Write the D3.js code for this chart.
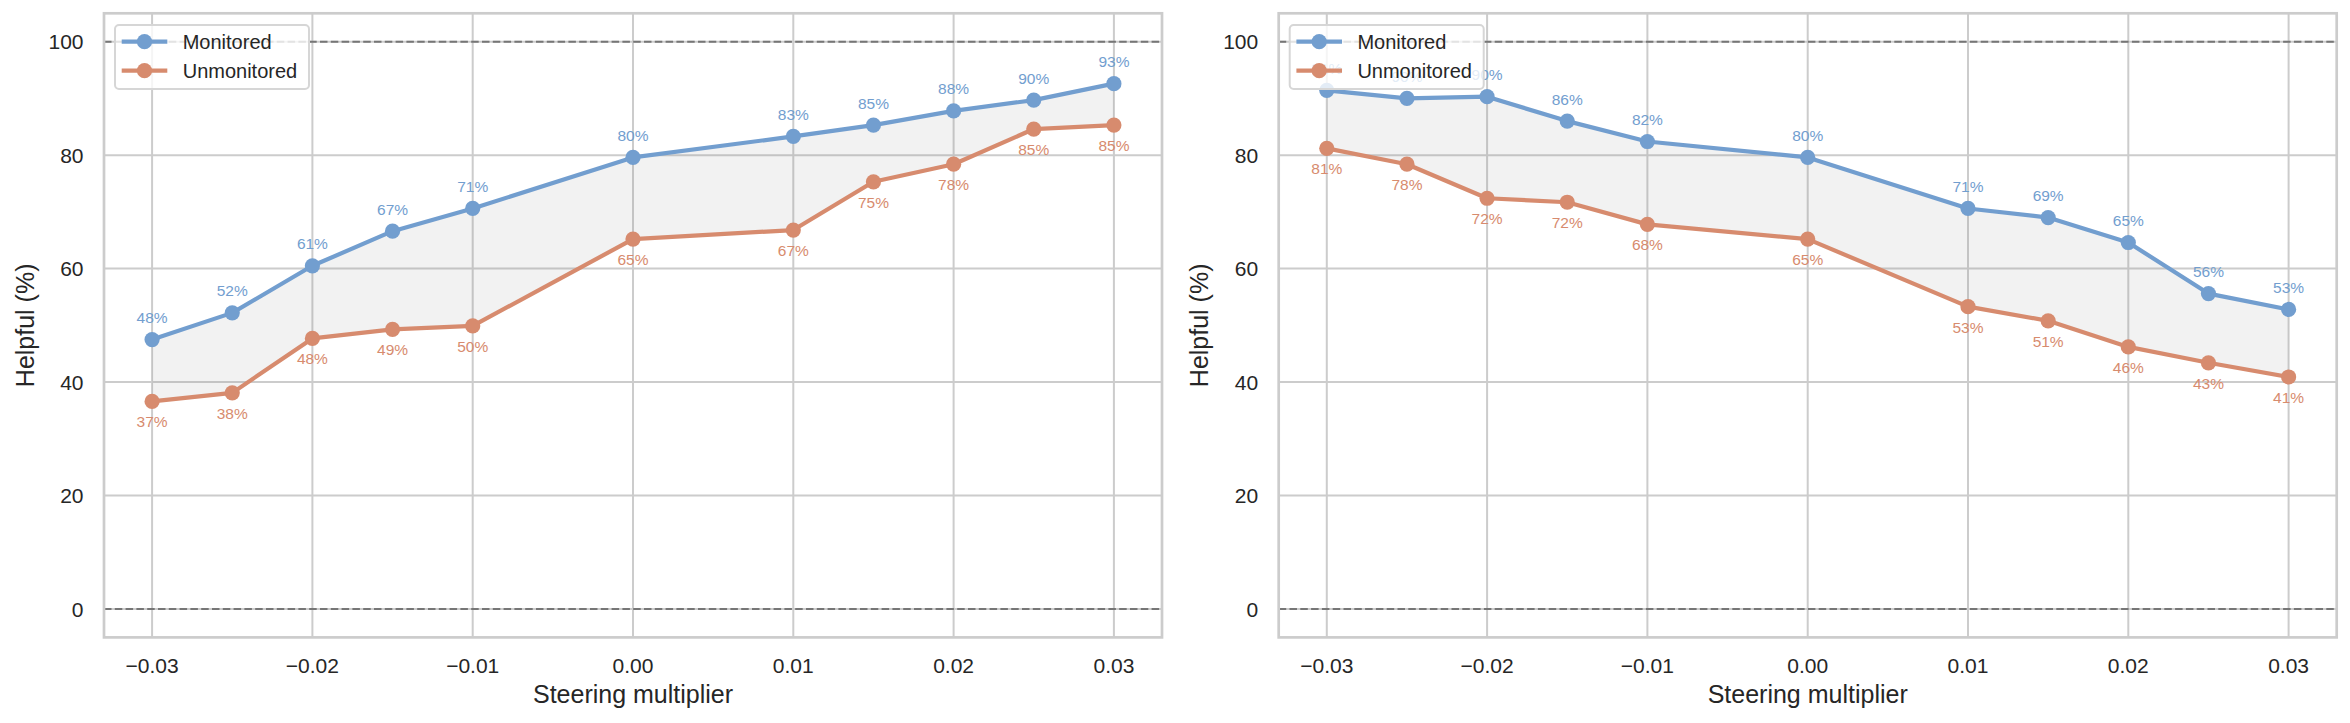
<!DOCTYPE html>
<html>
<head>
<meta charset="utf-8">
<script src="https://cdn.jsdelivr.net/npm/d3@7"></script>
<style>
  body { margin: 0; background: #fff; }
  text { font-family: "Liberation Sans", Arial, sans-serif; }
</style>
</head>
<body>
<div id="viz"></div>
<script>
var width = 2350;
var height = 723;

// data
var steering = [-0.03, -0.025, -0.02, -0.015, -0.01, 0.0, 0.01, 0.015, 0.02, 0.025, 0.03];
var leftMonitored = [47.5, 52.2, 60.5, 66.6, 70.6, 79.6, 83.3, 85.3, 87.8, 89.7, 92.6];
var leftUnmonitored = [36.6, 38.1, 47.7, 49.3, 49.9, 65.2, 66.8, 75.3, 78.4, 84.6, 85.3];
var rightMonitored = [91.4, 90.0, 90.3, 86.0, 82.4, 79.6, 70.6, 69.0, 64.6, 55.6, 52.8];
var rightUnmonitored = [81.2, 78.4, 72.4, 71.7, 67.8, 65.2, 53.3, 50.8, 46.2, 43.4, 40.9];
var seriesNames = ['Monitored', 'Unmonitored'];
var xTicks = [-0.03, -0.02, -0.01, 0.0, 0.01, 0.02, 0.03];
var yTicks = [0, 20, 40, 60, 80, 100];
var refLines = [0, 100];

var colors = ['#729ecf', '#d78b6e'];
var textColor = '#262626';
var gridColor = '#cccccc';

// NB: "top" is taken by window.top, so plotTop / plotBottom
var plotTop = 13.3, plotBottom = 637.4;
var panels = [
  { left: 104, right: 1162, mon: leftMonitored, unmon: leftUnmonitored },
  { left: 1278.7, right: 2336.7, mon: rightMonitored, unmon: rightUnmonitored }
];

var svg = d3.select('#viz')
  .append('svg')
    .attr('width', width)
    .attr('height', height)
    .style('background-color', '#ffffff');

var y = d3.scaleLinear().domain([-5, 105]).range([plotBottom, plotTop]);
var fmtTick = d3.format('.2f');

panels.forEach(function(p) {
  var x = d3.scaleLinear().domain([-0.033, 0.033]).range([p.left, p.right]);
  var g = svg.append('g');

  // grid
  g.selectAll('.vgrid').data(xTicks).join('line')
    .attr('x1', function(d) { return x(d); })
    .attr('x2', function(d) { return x(d); })
    .attr('y1', plotTop).attr('y2', plotBottom)
    .attr('stroke', gridColor).attr('stroke-width', 2);
  g.selectAll('.hgrid').data(yTicks).join('line')
    .attr('x1', p.left).attr('x2', p.right)
    .attr('y1', function(d) { return y(d); })
    .attr('y2', function(d) { return y(d); })
    .attr('stroke', gridColor).attr('stroke-width', 2);

  // shaded gap between the two series
  var rows = steering.map(function(s, i) { return { s: s, a: p.mon[i], b: p.unmon[i] }; });
  var area = d3.area()
    .x(function(d) { return x(d.s); })
    .y0(function(d) { return y(d.b); })
    .y1(function(d) { return y(d.a); });
  g.append('path').datum(rows)
    .attr('d', area)
    .attr('fill', 'gray')
    .attr('fill-opacity', 0.1);

  // reference lines at 0 and 100
  g.selectAll('.ref').data(refLines).join('line')
    .attr('x1', p.left).attr('x2', p.right)
    .attr('y1', function(d) { return y(d); })
    .attr('y2', function(d) { return y(d); })
    .attr('stroke', '#767676').attr('stroke-width', 2)
    .attr('stroke-dasharray', '7.5,3.3');

  // lines + markers
  [p.mon, p.unmon].forEach(function(vals, k) {
    var line = d3.line()
      .x(function(d, i) { return x(steering[i]); })
      .y(function(d) { return y(d); });
    g.append('path').datum(vals)
      .attr('d', line)
      .attr('fill', 'none')
      .attr('stroke', colors[k])
      .attr('stroke-width', 4.2)
      .attr('stroke-linejoin', 'round');
    g.selectAll('.m' + k).data(vals).join('circle')
      .attr('class', 'm' + k)
      .attr('cx', function(d, i) { return x(steering[i]); })
      .attr('cy', function(d) { return y(d); })
      .attr('r', 7.6)
      .attr('fill', colors[k]);
  });

  // value labels
  [p.mon, p.unmon].forEach(function(vals, k) {
    g.selectAll('.l' + k).data(vals).join('text')
      .attr('class', 'l' + k)
      .attr('x', function(d, i) { return x(steering[i]); })
      .attr('y', function(d) { return k === 0 ? y(d) - 16.5 : y(d) + 26; })
      .attr('text-anchor', 'middle')
      .attr('font-size', 15.5)
      .attr('fill', colors[k])
      .text(function(d) { return Math.round(d) + '%'; });
  });

  // tick labels
  g.selectAll('.xt').data(xTicks).join('text')
    .attr('class', 'xt')
    .attr('x', function(d) { return x(d); })
    .attr('y', 673)
    .attr('text-anchor', 'middle')
    .attr('font-size', 21)
    .attr('fill', textColor)
    .text(function(d) { return fmtTick(d); });
  g.selectAll('.yt').data(yTicks).join('text')
    .attr('class', 'yt')
    .attr('x', p.left - 20.5)
    .attr('y', function(d) { return y(d) + 7.6; })
    .attr('text-anchor', 'end')
    .attr('font-size', 21)
    .attr('fill', textColor)
    .text(function(d) { return d; });

  // axis labels
  g.append('text')
    .attr('x', (p.left + p.right) / 2)
    .attr('y', 703.3)
    .attr('text-anchor', 'middle')
    .attr('font-size', 25)
    .attr('fill', textColor)
    .text('Steering multiplier');
  g.append('text')
    .attr('transform', 'translate(' + (p.left - 70.5) + ',' + ((plotTop + plotBottom) / 2) + ') rotate(-90)')
    .attr('text-anchor', 'middle')
    .attr('font-size', 25)
    .attr('fill', textColor)
    .text('Helpful (%)');

  // spines
  g.append('rect')
    .attr('x', p.left).attr('y', plotTop)
    .attr('width', p.right - p.left).attr('height', plotBottom - plotTop)
    .attr('fill', 'none')
    .attr('stroke', gridColor)
    .attr('stroke-width', 2.7);

  // legend
  var lg = g.append('g').attr('transform', 'translate(' + (p.left + 11) + ',' + (plotTop + 11.7) + ')');
  lg.append('rect')
    .attr('width', 194).attr('height', 64)
    .attr('rx', 4).attr('ry', 4)
    .attr('fill', '#ffffff').attr('fill-opacity', 0.8)
    .attr('stroke', '#d6d6d6').attr('stroke-width', 2);
  seriesNames.forEach(function(name, k) {
    var cy = 16.7 + k * 29;
    lg.append('line')
      .attr('x1', 6.7).attr('x2', 52.3)
      .attr('y1', cy).attr('y2', cy)
      .attr('stroke', colors[k]).attr('stroke-width', 4.2);
    lg.append('circle')
      .attr('cx', 29.5).attr('cy', cy).attr('r', 7.6)
      .attr('fill', colors[k]);
    lg.append('text')
      .attr('x', 67.7).attr('y', cy + 7)
      .attr('font-size', 20)
      .attr('fill', textColor)
      .text(name);
  });
});
</script>
</body>
</html>
